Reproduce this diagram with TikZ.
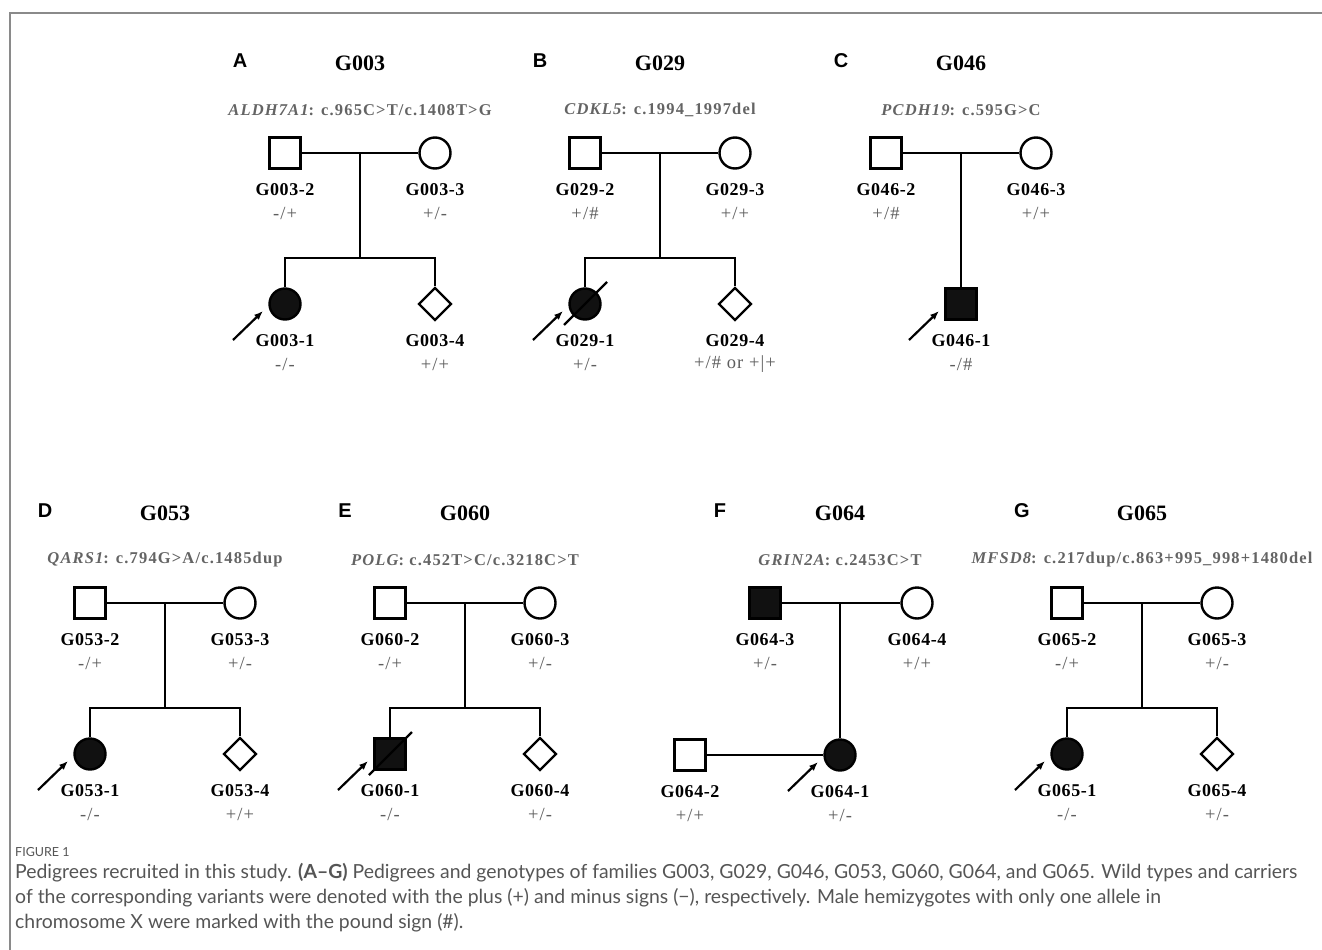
\documentclass[tikz,border=0pt]{standalone}
\usepackage{fontspec}
\setmainfont{Liberation Serif}
\newfontfamily\capfont{Lato}
\newfontfamily\panfont{Liberation Sans}
\newfontfamily\genefont[LetterSpace=7]{Liberation Serif}
\newfontfamily\genofont[LetterSpace=6]{Liberation Serif}
\newfontfamily\idfont[LetterSpace=3]{Liberation Serif}
\usetikzlibrary{shapes.geometric,arrows.meta,calc}
\definecolor{genegray}{HTML}{646464}
\definecolor{genogray}{HTML}{5E5E5E}
\definecolor{framegray}{HTML}{8A8A8A}
\definecolor{capgray}{HTML}{555555}
\definecolor{fillk}{HTML}{111111}
\tikzset{
  ped/.style={line width=2.4pt, draw=black},
  male/.style={ped, rectangle, minimum size=31pt, inner sep=0pt},
  female/.style={ped, circle, minimum size=31pt, inner sep=0pt},
  unknown/.style={ped, diamond, minimum size=33pt, inner sep=0pt},
  affected/.style={fill=fillk},
  panlbl/.style={font=\panfont\fontsize{20}{22}\selectfont\bfseries},
  famlbl/.style={font=\fontsize{22}{25}\selectfont\bfseries},
  genelbl/.style={font=\genefont\fontsize{16.5}{19}\selectfont\bfseries, text=genegray},
  idlbl/.style={font=\idfont\fontsize{18}{20}\selectfont\bfseries},
  geno/.style={font=\genofont\fontsize{18.5}{20}\selectfont, text=genogray},
  proband/.style={line width=2.2pt, -{Latex[length=9pt,width=7pt]}},
  caption/.style={font=\capfont\fontsize{19.4}{22}\selectfont, text=capgray, anchor=west, inner sep=0pt},
}
% person: name, position, style, id label, genotype
\newcommand\person[5]{%
  \node[#3] (#1) at (#2) {};
  \node[idlbl] (#1l) at ($(#1.center)+(0,37)$) {#4};
  \node[geno] (#1g) at ($(#1.center)+(0,60)$) {#5};
}
% head: prefix, letter, family, gene line
\newcommand\pedhead[4]{%
  \node[panlbl] (#1let) at (-120,61) {#2};
  \node[famlbl] (#1fam) at (0,63) {#3};
  \node[genelbl] (#1gene) at (0,110) {#4};
}
\newcommand\arrowto[1]{%
  \coordinate (#1aa) at ($(#1.center)+(-52,36)$);
  \coordinate (#1ab) at ($(#1.center)+(-22,7)$);
  \draw[proband] (#1aa) -- (#1ab);
}
\newcommand\slashed[1]{%
  \draw[ped] ($(#1.center)+(-21,21)$) -- ($(#1.center)+(22,-22)$);
}
\newcommand\sibship[5]{% prefix, father, mother, child1, child2
  \coordinate (#1s) at (0,258);
  \coordinate (#1m) at (#2.east -| #1s);
  \draw[ped] (#2) -- (#3);
  \draw[ped] (#1m) -- (#1s);
  \draw[ped] (#4.north) |- (#1s) -| (#5.north);
}
\begin{document}
\begin{tikzpicture}[x=1pt,y=-1pt]
\useasboundingbox (0,0) rectangle (1322,950);
\draw[framegray, line width=1.5pt] (10,950) -- (10,13) -- (1322,13);

% ---------- A ----------
\begin{scope}[shift={(360,0)}]
\pedhead{A}{A}{G003}{{\itshape ALDH7A1}: c.965C>T/c.1408T>G}
\person{A2}{-75,153}{male}{G003-2}{-/+}
\person{A3}{75,153}{female}{G003-3}{+/-}
\person{A1}{-75,304}{female,affected}{G003-1}{-/-}
\person{A4}{75,304}{unknown}{G003-4}{+/+}
\sibship{A}{A2}{A3}{A1}{A4}
\arrowto{A1}
\end{scope}

% ---------- B ----------
\begin{scope}[shift={(660,0)}]
\pedhead{B}{B}{G029}{{\itshape CDKL5}: c.1994\_1997del}
\person{B2}{-75,153}{male}{G029-2}{+/\#}
\person{B3}{75,153}{female}{G029-3}{+/+}
\person{B1}{-75,304}{female,affected}{G029-1}{+/-}
\person{B4}{75,304}{unknown}{G029-4}{+/\# or +|+}
\sibship{B}{B2}{B3}{B1}{B4}
\slashed{B1}
\arrowto{B1}
\end{scope}

% ---------- C ----------
\begin{scope}[shift={(961,0)}]
\pedhead{C}{C}{G046}{{\itshape PCDH19}: c.595G>C}
\person{C2}{-75,153}{male}{G046-2}{+/\#}
\person{C3}{75,153}{female}{G046-3}{+/+}
\person{C1}{0,304}{male,affected}{G046-1}{-/\#}
\coordinate (Cm) at (C2.east -| C1.north);
\draw[ped] (C2) -- (C3);
\draw[ped] (Cm) -- (C1.north);
\arrowto{C1}
\end{scope}

% ---------- D ----------
\begin{scope}[shift={(165,450)}]
\pedhead{D}{D}{G053}{{\itshape QARS1}: c.794G>A/c.1485dup}
\person{D2}{-75,153}{male}{G053-2}{-/+}
\person{D3}{75,153}{female}{G053-3}{+/-}
\person{D1}{-75,304}{female,affected}{G053-1}{-/-}
\person{D4}{75,304}{unknown}{G053-4}{+/+}
\sibship{D}{D2}{D3}{D1}{D4}
\arrowto{D1}
\end{scope}

% ---------- E ----------
\begin{scope}[shift={(465,450)}]
\pedhead{E}{E}{G060}{{\itshape POLG}: c.452T>C/c.3218C>T}
\person{E2}{-75,153}{male}{G060-2}{-/+}
\person{E3}{75,153}{female}{G060-3}{+/-}
\person{E1}{-75,304}{male,affected}{G060-1}{-/-}
\person{E4}{75,304}{unknown}{G060-4}{+/-}
\sibship{E}{E2}{E3}{E1}{E4}
\slashed{E1}
\arrowto{E1}
\end{scope}

% ---------- F ----------
\begin{scope}[shift={(840,450)}]
\pedhead{F}{F}{G064}{{\itshape GRIN2A}: c.2453C>T}
\person{F3}{-75,153}{male,affected}{G064-3}{+/-}
\person{F4}{77,153}{female}{G064-4}{+/+}
\person{F1}{0,305}{female,affected}{G064-1}{+/-}
\person{F2}{-150,305}{male}{G064-2}{+/+}
\coordinate (Fm) at (F3.east -| F1.north);
\draw[ped] (F3) -- (F4);
\draw[ped] (Fm) -- (F1.north);
\draw[ped] (F2) -- (F1);
\arrowto{F1}
\end{scope}

% ---------- G ----------
\begin{scope}[shift={(1142,450)}]
\pedhead{G}{G}{G065}{{\itshape MFSD8}: c.217dup/c.863+995\_998+1480del}
\person{G2}{-75,153}{male}{G065-2}{-/+}
\person{G3}{75,153}{female}{G065-3}{+/-}
\person{G1}{-75,304}{female,affected}{G065-1}{-/-}
\person{G4}{75,304}{unknown}{G065-4}{+/-}
\sibship{G}{G2}{G3}{G1}{G4}
\arrowto{G1}
\end{scope}

% ---------- caption ----------
\node[caption, font=\capfont\fontsize{12.5}{14}\selectfont] (figno) at (15,852) {FIGURE 1};
\node[caption] (cap1) at (15,873) {Pedigrees recruited in this study. \textbf{(A–G)} Pedigrees and genotypes of families G003, G029, G046, G053, G060, G064, and G065. Wild types and carriers};
\node[caption] (cap2) at (15,898) {of the corresponding variants were denoted with the plus (+) and minus signs (−), respectively. Male hemizygotes with only one allele in};
\node[caption] (cap3) at (15,923) {chromosome X were marked with the pound sign (\#).};
\end{tikzpicture}
\end{document}
